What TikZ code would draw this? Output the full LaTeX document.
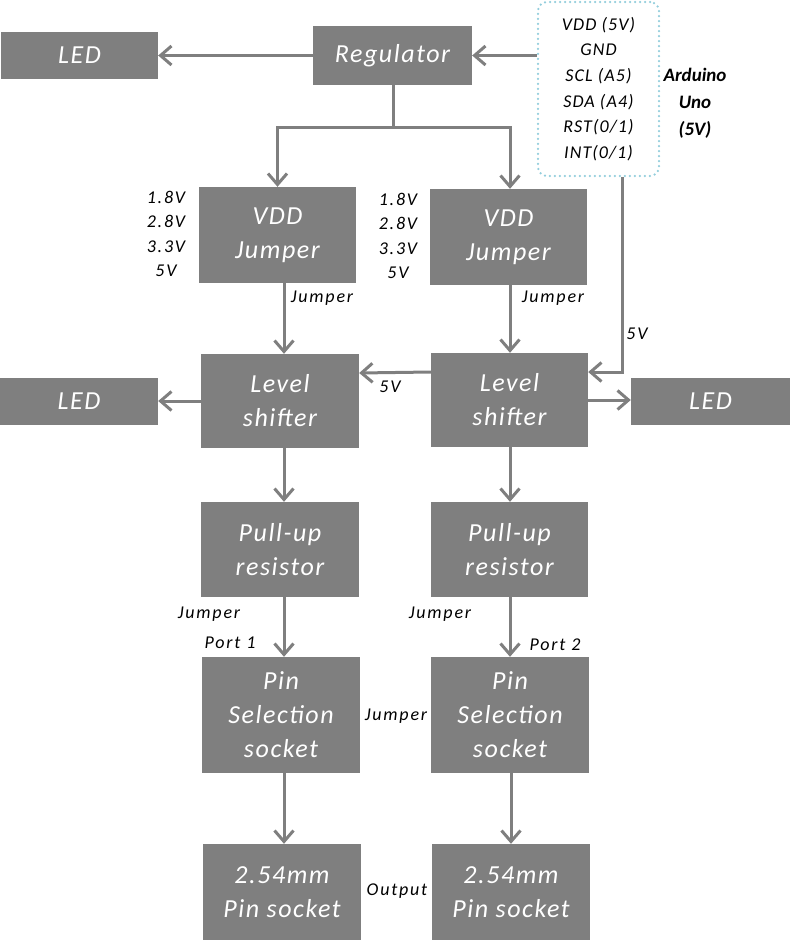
\documentclass[tikz,border=0pt]{standalone}
\usepackage{fontspec}
\setmainfont{Carlito}
\newfontfamily\boxfont[LetterSpace=6]{Carlito}
\newfontfamily\smallfont[LetterSpace=10]{Carlito}
\newfontfamily\ardfont[LetterSpace=6]{Carlito}
\usetikzlibrary{arrows.meta}
\definecolor{boxgray}{HTML}{7F7F7F}
\definecolor{dotblue}{HTML}{92CDDC}
\tikzset{
  blk/.style={fill=boxgray, draw=none, text=white, align=center, inner sep=0pt,
    font=\boxfont\fontsize{26}{34}\selectfont\itshape},
  conn/.style={draw=boxgray, line width=3pt},
  arr/.style={conn, -{Straight Barb[length=11pt,width=19pt,line width=3pt]}},
  lbl/.style={font=\smallfont\fontsize{18}{20}\selectfont\itshape, inner sep=0pt, align=center},
}
\begin{document}
\begin{tikzpicture}[x=1pt,y=-1pt]
\useasboundingbox (0,0) rectangle (790,943);
% top row
\node[blk, minimum width=157pt, minimum height=47pt] (ledA) at (79.5,55.5) {LED};
\node[blk, minimum width=159pt, minimum height=59pt] (reg) at (392.5,55.5) {Regulator};
\node[draw=dotblue, line width=2.5pt, dash pattern=on 0pt off 5pt, line cap=round,
  rounded corners=9pt, minimum width=121pt, minimum height=174pt, inner sep=0pt,
  align=center, font=\ardfont\fontsize{18}{25.6}\selectfont\itshape] (ard) at (598.5,89)
  {VDD (5V)\\GND\\SCL (A5)\\SDA (A4)\\RST(0/1)\\INT(0/1)};
\node[align=center, inner sep=0pt, font=\fontsize{19}{27}\selectfont\bfseries\itshape] (ardname) at (695,103) {Arduino\\Uno\\(5V)};
% VDD jumpers
\node[blk, minimum width=157pt, minimum height=96pt] (vddL) at (277.5,235) {VDD\\Jumper};
\node[blk, minimum width=157pt, minimum height=96pt] (vddR) at (508.5,237) {VDD\\Jumper};
\node[lbl, font=\smallfont\fontsize{18}{24.3}\selectfont\itshape] (voltL) at (166,234) {1.8V\\2.8V\\3.3V\\5V};
\node[lbl, font=\smallfont\fontsize{18}{24.3}\selectfont\itshape] (voltR) at (398,236) {1.8V\\2.8V\\3.3V\\5V};
% level shifters and LEDs
\node[blk, minimum width=158pt, minimum height=94pt] (lsL) at (280,401) {Level\\shifter};
\node[blk, minimum width=157pt, minimum height=94pt] (lsR) at (509.5,400) {Level\\shifter};
\node[blk, minimum width=158pt, minimum height=47pt] (ledL) at (79,401.5) {LED};
\node[blk, minimum width=159pt, minimum height=47pt] (ledR) at (710.5,401.5) {LED};
% pull-ups
\node[blk, minimum width=158pt, minimum height=95pt] (puL) at (280,549.5) {Pull-up\\resistor};
\node[blk, minimum width=157pt, minimum height=95pt] (puR) at (509.5,549.5) {Pull-up\\resistor};
% pin selection
\node[blk, minimum width=158pt, minimum height=116pt] (psL) at (281,715) {Pin\\Selection\\socket};
\node[blk, minimum width=158pt, minimum height=116pt] (psR) at (510,715) {Pin\\Selection\\socket};
% pin sockets
\node[blk, minimum width=158pt, minimum height=96pt] (pinL) at (282,892) {2.54mm\\Pin socket};
\node[blk, minimum width=158pt, minimum height=96pt] (pinR) at (511,892) {2.54mm\\Pin socket};
% coordinates
\coordinate (cl) at (284,0);
\coordinate (cr) at (510,0);
\coordinate (split) at (393,127);
\coordinate (a5v) at (622,0);
% connectors
\draw[arr] (reg.west) -- (ledA.east);
\draw[arr] (ard.west |- reg.east) -- (reg.east);
\draw[conn] (reg.south -| split) -- (split);
\draw[arr] (split) -| (vddL.north);
\draw[arr] (split) -| (cr |- vddR.north);
\draw[arr] (vddL.south -| cl) -- (lsL.north -| cl);
\draw[arr] (vddR.south -| cr) -- (lsR.north -| cr);
\draw[arr] (ard.south -| a5v) |- ([yshift=28pt]lsR.east);
\draw[arr] ([yshift=28pt]lsR.west) -- ([yshift=28pt]lsL.east);
\draw[arr] (lsL.west) -- (lsL.west -| ledL.east);
\draw[arr] (lsR.east) -- (lsR.east -| ledR.west);
\draw[arr] (lsL.south -| cl) -- (puL.north -| cl);
\draw[arr] (lsR.south -| cr) -- (puR.north -| cr);
\draw[arr] (puL.south -| cl) -- (psL.north -| cl);
\draw[arr] (puR.south -| cr) -- (psR.north -| cr);
\draw[arr] (psL.south -| cl) -- (pinL.north -| cl);
\draw[arr] ([xshift=1pt]psR.south) -- ([xshift=1pt]pinR.north -| psR.south);
% labels
\node[lbl] (j1) at (322,298) {Jumper};
\node[lbl] (j2) at (553,298) {Jumper};
\node[lbl] (v5a) at (637,334) {5V};
\node[lbl] (v5b) at (390,387) {5V};
\node[lbl] (j3) at (209,614) {Jumper};
\node[lbl] (p1) at (230,643) {Port 1};
\node[lbl] (j4) at (440,614) {Jumper};
\node[lbl] (p2) at (555,645) {Port 2};
\node[lbl] (j5) at (396,716) {Jumper};
\node[lbl] (out) at (397,891) {Output};
\end{tikzpicture}
\end{document}
